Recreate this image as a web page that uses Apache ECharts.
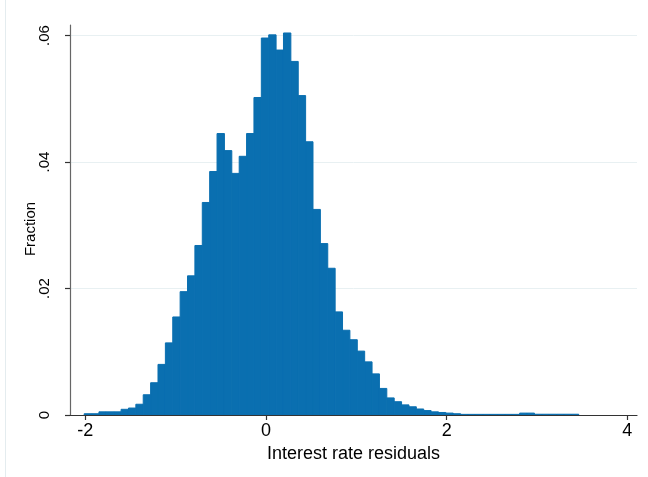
<!DOCTYPE html>
<html>
<head>
<meta charset="utf-8">
<script src="https://cdn.jsdelivr.net/npm/echarts@6/dist/echarts.min.js"></script>
<style>
html,body{margin:0;padding:0;background:#fff;}
#chart{width:648px;height:477px;}
</style>
</head>
<body>
<div id="chart"></div>
<script>
// Histogram: fraction per bin (bins of equal width starting at binStart)
const binStart = -2.012;
const binWidth = 0.0817;
const fractions = [
  0.0002, 0.0002, 0.0005, 0.0005, 0.0005, 0.0009, 0.0011, 0.0017, 0.0032, 0.0051,
  0.0080, 0.0114, 0.0155, 0.0195, 0.0220, 0.0268, 0.0336, 0.0385, 0.0445, 0.0418,
  0.0382, 0.0409, 0.0445, 0.0502, 0.0596, 0.0601, 0.0577, 0.0604, 0.0559, 0.0505,
  0.0432, 0.0325, 0.0271, 0.0232, 0.0163, 0.0134, 0.0119, 0.0101, 0.0084, 0.0065,
  0.0042, 0.0027, 0.0021, 0.0016, 0.0013, 0.00095, 0.0007, 0.0005, 0.0004, 0.0003,
  0.0002, 0.0001, 0.0001, 0.0001, 0.0001, 0.0001, 0.0001, 0.0001, 0.0001, 0.0003,
  0.0003, 0.00012, 0.00012, 0.00012, 0.00012, 0.00012, 0.00012
];
const xTicks = [-2, 0, 2, 4];
const yTicks = [0, 0.02, 0.04, 0.06];
const yTickLabels = ['0', '.02', '.04', '.06'];
const xTitle = 'Interest rate residuals';
const yTitle = 'Fraction';

const barColor = '#0a6fb0';
const data = fractions.map((f, i) => [binStart + i * binWidth, binStart + (i + 1) * binWidth, f]);

const chart = echarts.init(document.getElementById('chart'), null, {renderer: 'canvas'});
chart.setOption({
  animation: false,
  backgroundColor: '#ffffff',
  grid: {left: 70, right: 11, top: 25, bottom: 62, containLabel: false},
  graphic: [{
    type: 'line', shape: {x1: 5.5, y1: 0, x2: 5.5, y2: 477},
    style: {stroke: '#e4ecef', lineWidth: 1}, silent: true
  }, {
    type: 'text', x: 31, y: 229, rotation: Math.PI / 2, silent: true,
    style: {text: yTitle, fontFamily: 'Liberation Sans', fontSize: 15, fill: '#000',
            align: 'center', verticalAlign: 'middle'}
  }],
  xAxis: {
    type: 'value', min: -2.169, max: 4.107, z: 10,
    name: xTitle, nameLocation: 'middle', nameGap: 24,
    nameTextStyle: {fontFamily: 'Liberation Sans', fontSize: 18, color: '#000'},
    axisLine: {show: true, onZero: false, lineStyle: {color: '#333', width: 1.2}},
    axisTick: {show: true, length: 5, customValues: xTicks, lineStyle: {color: '#333', width: 1.2}},
    axisLabel: {customValues: xTicks, margin: 7, fontFamily: 'Liberation Sans', fontSize: 18, color: '#000'},
    splitLine: {show: false}
  },
  yAxis: {
    type: 'value', min: 0, max: 0.06166,
    axisLine: {show: true, onZero: false, lineStyle: {color: '#666', width: 1.2}},
    axisTick: {show: true, length: 5, customValues: yTicks, lineStyle: {color: '#333', width: 1.2}},
    axisLabel: {
      customValues: yTicks, rotate: 90, margin: 18,
      fontFamily: 'Liberation Sans', fontSize: 15, color: '#000',
      formatter: v => { const k = yTicks.findIndex(t => Math.abs(t - v) < 1e-9); return k >= 0 ? yTickLabels[k] : ''; }
    },
    splitLine: {show: true, lineStyle: {color: '#e8f0f2', width: 1}}
  },
  series: [{
    type: 'custom',
    z: 5,
    data: data,
    encode: {x: [0, 1], y: 2},
    renderItem: (params, api) => {
      const p0 = api.coord([api.value(0), api.value(2)]);
      const p1 = api.coord([api.value(1), 0]);
      return {
        type: 'rect',
        shape: {x: p0[0], y: p0[1], width: p1[0] - p0[0], height: p1[1] - p0[1]},
        style: {fill: barColor, stroke: barColor, lineWidth: 1}
      };
    }
  }]
});
</script>
</body>
</html>
